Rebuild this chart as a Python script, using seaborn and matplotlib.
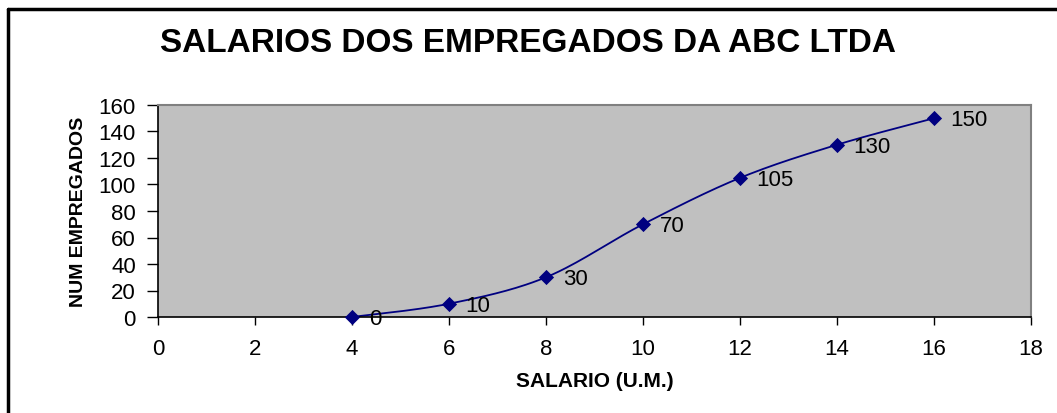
import matplotlib
matplotlib.use("Agg")
import matplotlib.pyplot as plt
import numpy as np
import pandas as pd
import seaborn as sns
from matplotlib.lines import Line2D

salario = [4, 6, 8, 10, 12, 14, 16]
num_empregados = [0, 10, 30, 70, 105, 130, 150]
rotulos = ["0", "10", "30", "70", "105", "130", "150"]

x_ticks = list(range(0, 19, 2))
y_ticks = list(range(0, 161, 20))

titulo = "SALARIOS DOS EMPREGADOS DA ABC LTDA"
rotulo_x = "SALARIO (U.M.)"
rotulo_y = "NUM EMPREGADOS"

NAVY = "#000080"


def suavizar(xs, ys, passos=30):
    """Curva de Bezier tipo Excel (Catmull-Rom) passando pelos pontos."""
    xs = np.asarray(xs, float)
    ys = np.asarray(ys, float)
    px = np.concatenate([[xs[0]], xs, [xs[-1]]])
    py = np.concatenate([[ys[0]], ys, [ys[-1]]])
    cx, cy = [], []
    t = np.linspace(0, 1, passos)
    for i in range(1, len(px) - 2):
        p0 = np.array([px[i], py[i]])
        p3 = np.array([px[i + 1], py[i + 1]])
        p1 = p0 + (np.array([px[i + 1], py[i + 1]]) - np.array([px[i - 1], py[i - 1]])) / 6
        p2 = p3 - (np.array([px[i + 2], py[i + 2]]) - np.array([px[i], py[i]])) / 6
        b = ((1 - t) ** 3)[:, None] * p0 + (3 * (1 - t) ** 2 * t)[:, None] * p1 \
            + (3 * (1 - t) * t ** 2)[:, None] * p2 + (t ** 3)[:, None] * p3
        cx.extend(b[:, 0])
        cy.extend(b[:, 1])
    return np.array(cx), np.array(cy)


sns.set_style("white")
plt.rcParams["font.family"] = ["Liberation Sans", "DejaVu Sans"]
plt.rcParams["text.color"] = "black"
plt.rcParams["axes.labelcolor"] = "black"
plt.rcParams["xtick.color"] = "black"
plt.rcParams["ytick.color"] = "black"

df = pd.DataFrame({"salario": salario, "empregados": num_empregados})
curva_x, curva_y = suavizar(salario, num_empregados)
curva = pd.DataFrame({"x": curva_x, "y": curva_y})

fig = plt.figure(figsize=(10.57, 4.14), dpi=100)
ax = fig.add_axes([158 / 1057, 1 - 318 / 414, (1031 - 158) / 1057, (318 - 106) / 414])
ax.set_facecolor("#c0c0c0")

sns.lineplot(data=curva, x="x", y="y", sort=False, estimator=None, color=NAVY,
             linewidth=1.3, ax=ax)
sns.scatterplot(data=df, x="salario", y="empregados", marker="D", s=60, color=NAVY,
                edgecolor=NAVY, linewidth=0, zorder=3, clip_on=False, ax=ax)

for xv, yv, rot in zip(salario, num_empregados, rotulos):
    ax.annotate(rot, (xv, yv), xytext=(12, -1), textcoords="offset points",
                ha="left", va="center", fontsize=16, color="black", annotation_clip=False)

ax.set_xlim(0, 18)
ax.set_ylim(0, 160)
ax.set_xticks(x_ticks)
ax.set_yticks(y_ticks)
ax.tick_params(axis="both", direction="out", width=1, color="black",
               labelsize=16, bottom=True, left=True)
ax.tick_params(axis="y", length=8, pad=8)
ax.tick_params(axis="x", length=6, pad=9)

for lado in ["left", "bottom"]:
    ax.spines[lado].set_color("black")
    ax.spines[lado].set_linewidth(1.2)
for lado in ["top", "right"]:
    ax.spines[lado].set_color("#808080")
    ax.spines[lado].set_linewidth(1.5)

ax.set_xlabel(rotulo_x, fontsize=15, fontweight="bold", labelpad=9)
ax.set_ylabel(rotulo_y, fontsize=14, fontweight="bold", labelpad=8)
fig.text(0.5, 1 - 43 / 414, titulo, ha="center", va="center", fontsize=24,
         fontweight="bold", color="black")

# borda do grafico (apenas superior e esquerda visiveis)
fig.add_artist(Line2D([8 / 1057, 8 / 1057], [0, 1 - 10 / 414], transform=fig.transFigure,
                      color="black", linewidth=2.5))
fig.add_artist(Line2D([8 / 1057, 1], [1 - 10 / 414, 1 - 10 / 414], transform=fig.transFigure,
                      color="black", linewidth=2.5))

fig.savefig("out.png", dpi=100, facecolor="white")
